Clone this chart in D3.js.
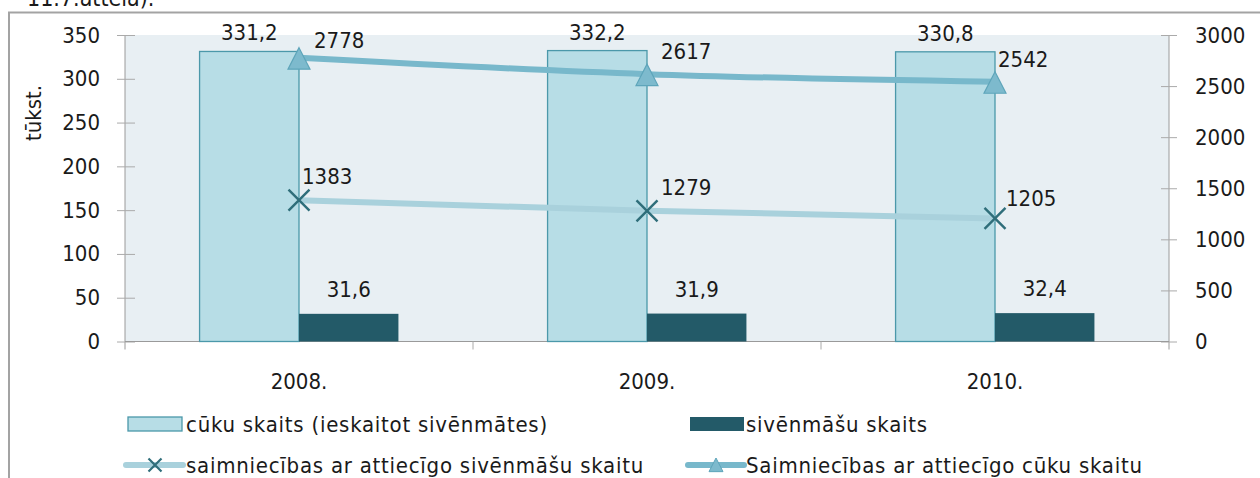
<!DOCTYPE html>
<html>
<head>
<meta charset="utf-8">
<script src="https://cdn.jsdelivr.net/npm/d3@7/dist/d3.min.js"></script>
<style>
    body { margin: 0; background: #fff; }
    svg text { font-family: "DejaVu Sans Condensed", "DejaVu Sans", sans-serif; font-stretch: condensed; fill: #1a1a1a; }
</style>
</head>
<body>
<div id="chart"></div>
<script>

// Data
var years = ["2008.", "2009.", "2010."];
var pigs = [331.2, 332.2, 330.8];           // cūku skaits, tūkst.
var sows = [31.6, 31.9, 32.4];              // sivēnmāšu skaits, tūkst.
var farmsSows = [1383, 1279, 1205];         // saimniecības ar sivēnmātēm
var farmsPigs = [2778, 2617, 2542];         // saimniecības ar cūkām
var leftTicks = [0, 50, 100, 150, 200, 250, 300, 350];
var rightTicks = [0, 500, 1000, 1500, 2000, 2500, 3000];
var fmt = function(v) { return d3.format(".1f")(v).replace(".", ","); };

// label nudges for the line values (as placed in the original)
var sowLabelNudge = [[3, -16], [14, -16], [11, -12]];
var pigLabelNudge = [[15, -10], [14, -15], [3, -15]];

var colLight = "#b7dde6", colLightEdge = "#4b98aa", colDark = "#235a68";
var colLinePigs = "#78b8cb", colLineSows = "#a9d1dc", colX = "#2f6e7a";
var fs = "22px";

var margin = { top: 35, left: 125 };
var width = 1044, height = 306.5;

var svg = d3.select("#chart").append("svg")
    .attr("width", 1260)
    .attr("height", 478);

// page text cut off at the top and frame
svg.append("text")
    .attr("x", 27).attr("y", 6)
    .style("font-size", "23px")
    .text("11.7.attēlā).");

svg.append("path")
    .attr("d", "M9,478 V12.5 H1260")
    .attr("fill", "none")
    .attr("stroke", "#a3a3a3")
    .attr("stroke-width", 2);

var g = svg.append("g")
    .attr("transform", "translate(" + margin.left + "," + margin.top + ")");

g.append("rect")
    .attr("width", width).attr("height", height)
    .attr("fill", "#e8eff3");

// Scales
var x = d3.scaleBand().domain(years).range([0, width]);
var xSub = d3.scaleBand().domain(["pigs", "sows"]).range([0, x.bandwidth()]).paddingOuter(0.75);
var yL = d3.scaleLinear().domain([0, 350]).range([height, 0]);
var yR = d3.scaleLinear().domain([0, 3000]).range([height, 0]);

// Axes
var axL = g.append("g").call(d3.axisLeft(yL).tickValues(leftTicks).tickSize(8).tickPadding(17));
axL.selectAll(".tick line").attr("x2", -8).attr("x1", 10);
var axR = g.append("g").attr("transform", "translate(" + width + ",0)")
    .call(d3.axisRight(yR).tickValues(rightTicks).tickFormat(d3.format("d")).tickSize(8).tickPadding(18));
axR.selectAll(".tick line").attr("x1", -8).attr("x2", 8);
[axL, axR].forEach(function(a) {
    a.select(".domain").attr("stroke", "#9a9a9a").attr("d", "M0,0V" + (height + 8));
    a.selectAll(".tick line").attr("stroke", "#aaaaaa");
    a.selectAll(".tick text").style("font-size", fs).attr("fill", "#1a1a1a");
});

var axX = g.append("g").attr("transform", "translate(0," + height + ")");
axX.append("line").attr("x1", 0).attr("x2", width).attr("stroke", "#9a9a9a");
axX.selectAll(".xt").data(years.slice(1)).enter().append("line")
    .attr("x1", function(d) { return x(d); }).attr("x2", function(d) { return x(d); })
    .attr("y1", 0).attr("y2", 8).attr("stroke", "#aaaaaa");
axX.selectAll(".xl").data(years).enter().append("text")
    .attr("x", function(d) { return x(d) + x.bandwidth() / 2; })
    .attr("y", 47)
    .attr("text-anchor", "middle")
    .style("font-size", fs)
    .text(function(d) { return d; });

// y title
g.append("text")
    .attr("transform", "translate(-84," + 78 + ") rotate(-90)")
    .attr("text-anchor", "middle")
    .style("font-size", fs)
    .text("tūkst.");

// Bars
g.selectAll(".bar-pigs").data(pigs).enter().append("rect")
    .attr("x", function(d, i) { return x(years[i]) + xSub("pigs"); })
    .attr("y", function(d) { return yL(d); })
    .attr("width", xSub.bandwidth())
    .attr("height", function(d) { return height - yL(d); })
    .attr("fill", colLight).attr("stroke", colLightEdge).attr("stroke-width", 1.3);

g.selectAll(".bar-sows").data(sows).enter().append("rect")
    .attr("x", function(d, i) { return x(years[i]) + xSub("sows"); })
    .attr("y", function(d) { return yL(d); })
    .attr("width", xSub.bandwidth())
    .attr("height", function(d) { return height - yL(d); })
    .attr("fill", colDark);

g.selectAll(".lab-pigs").data(pigs).enter().append("text")
    .attr("x", function(d, i) { return x(years[i]) + xSub("pigs") + xSub.bandwidth() / 2; })
    .attr("y", function(d) { return yL(d) - 11; })
    .attr("text-anchor", "middle").style("font-size", fs)
    .text(fmt);

g.selectAll(".lab-sows").data(sows).enter().append("text")
    .attr("x", function(d, i) { return x(years[i]) + xSub("sows") + xSub.bandwidth() / 2; })
    .attr("y", function(d) { return yL(d) - 17; })
    .attr("text-anchor", "middle").style("font-size", fs)
    .text(fmt);

// Lines
var cx = function(d, i) { return x(years[i]) + x.bandwidth() / 2; };
var line = d3.line().x(cx).y(function(d) { return yR(d); }).curve(d3.curveMonotoneX);

g.append("path").datum(farmsSows).attr("d", line)
    .attr("fill", "none").attr("stroke", colLineSows).attr("stroke-width", 6);
g.append("path").datum(farmsPigs).attr("d", line)
    .attr("fill", "none").attr("stroke", colLinePigs).attr("stroke-width", 6);

var xMark = function(s) { return "M" + -s + "," + -s + "L" + s + "," + s + "M" + -s + "," + s + "L" + s + "," + -s; };
var tri = function(s) { return "M0," + (-s) + "L" + s + "," + (s * 0.95) + "L" + -s + "," + (s * 0.95) + "Z"; };

g.selectAll(".mk-sows").data(farmsSows).enter().append("path")
    .attr("transform", function(d, i) { return "translate(" + cx(d, i) + "," + yR(d) + ")"; })
    .attr("d", xMark(10.5))
    .attr("stroke", colX).attr("stroke-width", 2.4).attr("fill", "none");

g.selectAll(".mk-pigs").data(farmsPigs).enter().append("path")
    .attr("transform", function(d, i) { return "translate(" + cx(d, i) + "," + (yR(d) + 1) + ")"; })
    .attr("d", tri(11))
    .attr("fill", "#7dbacd").attr("stroke", "#5ea5ba").attr("stroke-width", 1.2);

g.selectAll(".lab-fs").data(farmsSows).enter().append("text")
    .attr("x", function(d, i) { return cx(d, i) + sowLabelNudge[i][0]; })
    .attr("y", function(d, i) { return yR(d) + sowLabelNudge[i][1]; })
    .style("font-size", fs)
    .text(function(d) { return d; });

g.selectAll(".lab-fp").data(farmsPigs).enter().append("text")
    .attr("x", function(d, i) { return cx(d, i) + pigLabelNudge[i][0]; })
    .attr("y", function(d, i) { return yR(d) + pigLabelNudge[i][1]; })
    .style("font-size", fs)
    .text(function(d) { return d; });

// Legend
var legend = svg.append("g").style("font-size", fs).style("letter-spacing", "0.75px");

legend.append("rect").attr("x", 128).attr("y", 417).attr("width", 54).attr("height", 14)
    .attr("fill", colLight).attr("stroke", colLightEdge).attr("stroke-width", 1.3);
legend.append("text").attr("x", 186).attr("y", 432).text("cūku skaits (ieskaitot sivēnmātes)");

legend.append("rect").attr("x", 690).attr("y", 417).attr("width", 54).attr("height", 14)
    .attr("fill", colDark);
legend.append("text").attr("x", 746).attr("y", 432).text("sivēnmāšu skaits");

legend.append("line").attr("x1", 126).attr("x2", 183).attr("y1", 465).attr("y2", 465)
    .attr("stroke", colLineSows).attr("stroke-width", 6).attr("stroke-linecap", "round");
legend.append("path").attr("transform", "translate(155,465)").attr("d", xMark(6.5))
    .attr("stroke", colX).attr("stroke-width", 2.2);
legend.append("text").attr("x", 186).attr("y", 473).text("saimniecības ar attiecīgo sivēnmāšu skaitu");

legend.append("line").attr("x1", 688).attr("x2", 744).attr("y1", 465).attr("y2", 465)
    .attr("stroke", colLinePigs).attr("stroke-width", 6).attr("stroke-linecap", "round");
legend.append("path").attr("transform", "translate(716,465)").attr("d", tri(7))
    .attr("fill", "#7dbacd").attr("stroke", "#5ea5ba").attr("stroke-width", 1);
legend.append("text").attr("x", 746).attr("y", 473).text("Saimniecības ar attiecīgo cūku skaitu");

</script>
</body>
</html>
